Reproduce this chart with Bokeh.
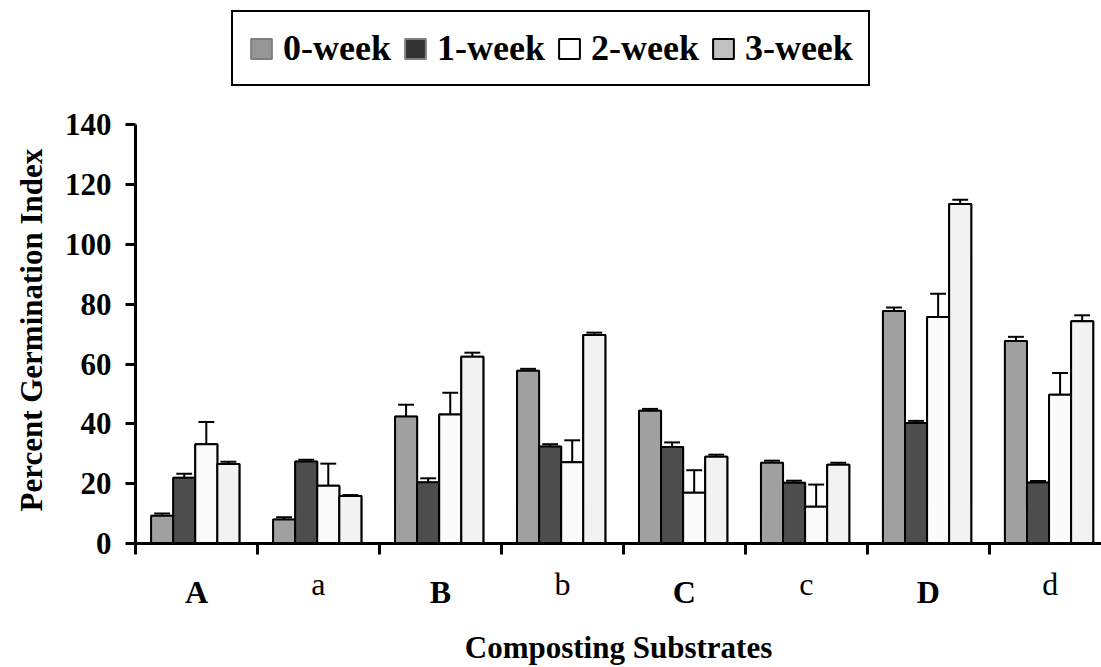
from bokeh.plotting import figure
from bokeh.models import Range1d, FixedTicker, Legend, LegendItem, LinearAxis, Title
from bokeh.embed import file_html
from bokeh.resources import INLINE

# ---------------- data ----------------
groups = ["A", "a", "B", "b", "C", "c", "D", "d"]
weeks = ["0-week", "1-week", "2-week", "3-week"]

mean_0wk = [9.3, 8.0, 42.5, 57.8, 44.4, 27.0, 77.7, 67.7]
mean_1wk = [22.0, 27.4, 20.5, 32.4, 32.3, 20.3, 40.3, 20.4]
mean_2wk = [33.2, 19.3, 43.1, 27.2, 17.0, 12.3, 75.7, 49.7]
mean_3wk = [26.6, 15.9, 62.4, 69.7, 29.0, 26.3, 113.5, 74.3]

err_0wk = [0.7, 0.8, 3.9, 0.6, 0.6, 0.7, 1.2, 1.4]
err_1wk = [1.3, 0.6, 1.3, 0.8, 1.5, 0.7, 0.7, 0.5]
err_2wk = [7.4, 7.4, 7.3, 7.3, 7.5, 7.4, 7.8, 7.3]
err_3wk = [0.7, 0.3, 1.4, 0.8, 0.7, 0.7, 1.4, 2.0]

y_ticks = [0, 20, 40, 60, 80, 100, 120, 140]
x_title = "Composting Substrates"
y_title = "Percent Germination Index"

means = [mean_0wk, mean_1wk, mean_2wk, mean_3wk]
errs = [err_0wk, err_1wk, err_2wk, err_3wk]

bar_fill = ["#a0a0a0", "#4d4d4d", "#fbfbfb", "#f2f2f2"]
leg_fill = ["#969696", "#333333", "#ffffff", "#c0c0c0"]
leg_line = ["#808080", "#808080", "#000000", "#000000"]

FONT = "Liberation Serif"
n = len(groups)

p = figure(width=1101, height=667,
           x_range=Range1d(0, 7.92), y_range=Range1d(0, 181.55),
           output_backend="svg", toolbar_location=None,
           min_border_left=133, min_border_right=0,
           min_border_top=0, min_border_bottom=123)
p.outline_line_color = None
p.xgrid.grid_line_color = None
p.ygrid.grid_line_color = None
p.background_fill_color = "white"

bar_w = 0.181
left_off = 0.128
cap_w = 0.13

xs_all = [[i + left_off + (k + 0.5) * bar_w for i in range(n)] for k in range(4)]

# legend swatch renderers (drawn first, hidden under the real bars)
items = []
for k in range(4):
    r = p.vbar(x=xs_all[k], top=means[k], bottom=0, width=bar_w,
               fill_color=leg_fill[k], line_color=leg_line[k], line_width=2)
    items.append(LegendItem(label=weeks[k], renderers=[r]))

for k in range(4):
    xs = xs_all[k]
    tops = means[k]
    ups = [t + e for t, e in zip(tops, errs[k])]
    p.segment(x0=xs, y0=tops, x1=xs, y1=ups, line_color="black", line_width=2)
    p.segment(x0=[x - cap_w / 2 for x in xs], y0=ups,
              x1=[x + cap_w / 2 for x in xs], y1=ups,
              line_color="black", line_width=2)
    p.vbar(x=xs, top=tops, bottom=0, width=bar_w,
           fill_color=bar_fill[k], line_color="black", line_width=2)

# ---- y axis ----
yax = p.left[0]
yax.ticker = FixedTicker(ticks=y_ticks)
yax.bounds = (y_ticks[0], y_ticks[-1])
yax.axis_line_width = 3
yax.major_tick_line_width = 3
yax.major_tick_out = 10
yax.major_tick_in = 0
yax.minor_tick_line_color = None
yax.major_label_text_font = FONT
yax.major_label_text_font_style = "bold"
yax.major_label_text_font_size = "31px"
yax.major_label_text_color = "black"
yax.major_label_standoff = 14

p.add_layout(Title(text=y_title, align="left", offset=32, standoff=24,
                   vertical_align="middle", text_font=FONT,
                   text_font_size="31px", text_font_style="bold",
                   text_color="black"), "left")

# ---- x axis (upper-case labels, boundary ticks) ----
upper_pos = [i + 0.5 for i, g in enumerate(groups) if g.isupper()]
lower_pos = [i + 0.5 for i, g in enumerate(groups) if not g.isupper()]

xax = p.below[0]
xax.ticker = FixedTicker(ticks=upper_pos, minor_ticks=list(range(n + 1)))
xax.major_label_overrides = {i + 0.5: g for i, g in enumerate(groups) if g.isupper()}
xax.axis_line_width = 3
xax.major_tick_line_color = None
xax.major_tick_out = 11
xax.major_tick_in = 0
xax.minor_tick_line_color = "black"
xax.minor_tick_line_width = 3
xax.minor_tick_out = 11
xax.minor_tick_in = 0
xax.major_label_text_font = FONT
xax.major_label_text_font_style = "bold"
xax.major_label_text_font_size = "32px"
xax.major_label_text_color = "black"
xax.major_label_standoff = 19

# ---- second x axis (lower-case labels + title) ----
xax2 = LinearAxis(ticker=FixedTicker(ticks=lower_pos),
                  major_label_overrides={i + 0.5: g for i, g in enumerate(groups) if not g.isupper()},
                  bounds=(0, n),
                  axis_line_color=None, major_tick_line_color=None,
                  minor_tick_line_color=None, major_tick_out=0, major_tick_in=0,
                  major_label_text_font=FONT, major_label_text_font_style="normal",
                  major_label_text_font_size="32px", major_label_text_color="black",
                  major_label_standoff=-47,
                  axis_label=x_title, axis_label_text_font=FONT,
                  axis_label_text_font_style="bold", axis_label_text_font_size="31px",
                  axis_label_text_color="black", axis_label_standoff=25)
p.add_layout(xax2, "below")

# ---- legend ----
legend = Legend(items=items, orientation="horizontal", location=(96, 457),
                label_text_font=FONT, label_text_font_style="bold",
                label_text_font_size="36px", label_text_color="black",
                glyph_width=26, glyph_height=25, label_standoff=9,
                spacing=11, padding=15, margin=0,
                border_line_color="black", border_line_width=2,
                border_line_alpha=1.0,
                background_fill_color="white", background_fill_alpha=1.0)
p.add_layout(legend)

open("out.html", "w").write(file_html(p, INLINE))
